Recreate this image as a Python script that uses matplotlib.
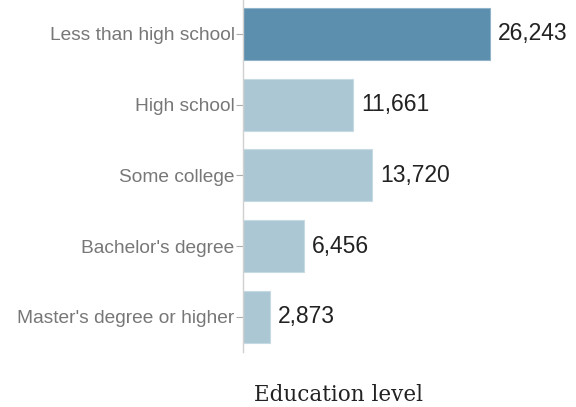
import matplotlib
matplotlib.use("Agg")
import matplotlib.pyplot as plt

categories = ["Less than high school", "High school", "Some college",
              "Bachelor's degree", "Master's degree or higher"]
values = [26243, 11661, 13720, 6456, 2873]
highlight = [True, False, False, False, False]

dark = "#5b8fad"
light = "#abc7d4"

fig = plt.figure(figsize=(5.76, 4.07), dpi=100)
ax = fig.add_axes([243 / 576, 1 - 352 / 407, 333 / 576, 352 / 407])

colors = [dark if h else light for h in highlight]
edges = ["#8fb3c8" if h else "#c6dae3" for h in highlight]
y = list(range(len(categories)))
bars = ax.barh(y, values, height=0.735, color=colors, edgecolor=edges, linewidth=0.8)

for yi, v in zip(y, values):
    ax.annotate(f"{v:,}", xy=(v, yi), xytext=(6, 0), textcoords="offset points",
                va="center", ha="left", fontsize=16.5, color="#222222",
                family="Liberation Sans")

ax.set_xlim(0, 35450)
ax.set_ylim(4.495, -0.48)
ax.set_yticks(y)
ax.set_yticklabels(categories, fontsize=13.8, color="#777777", family="Liberation Sans")
ax.tick_params(axis="y", length=5, width=0.8, color="#aaaaaa", pad=1)
ax.set_xticks([])
for s in ["top", "right", "bottom"]:
    ax.spines[s].set_visible(False)
ax.spines["left"].set_color("#d0d0d0")
ax.spines["left"].set_linewidth(1)

fig.text(338 / 576, 1 - 395 / 407, "Education level", ha="center", va="center",
         fontsize=15.5, family="DejaVu Serif", color="#222222")

fig.savefig("out.png", dpi=100)
